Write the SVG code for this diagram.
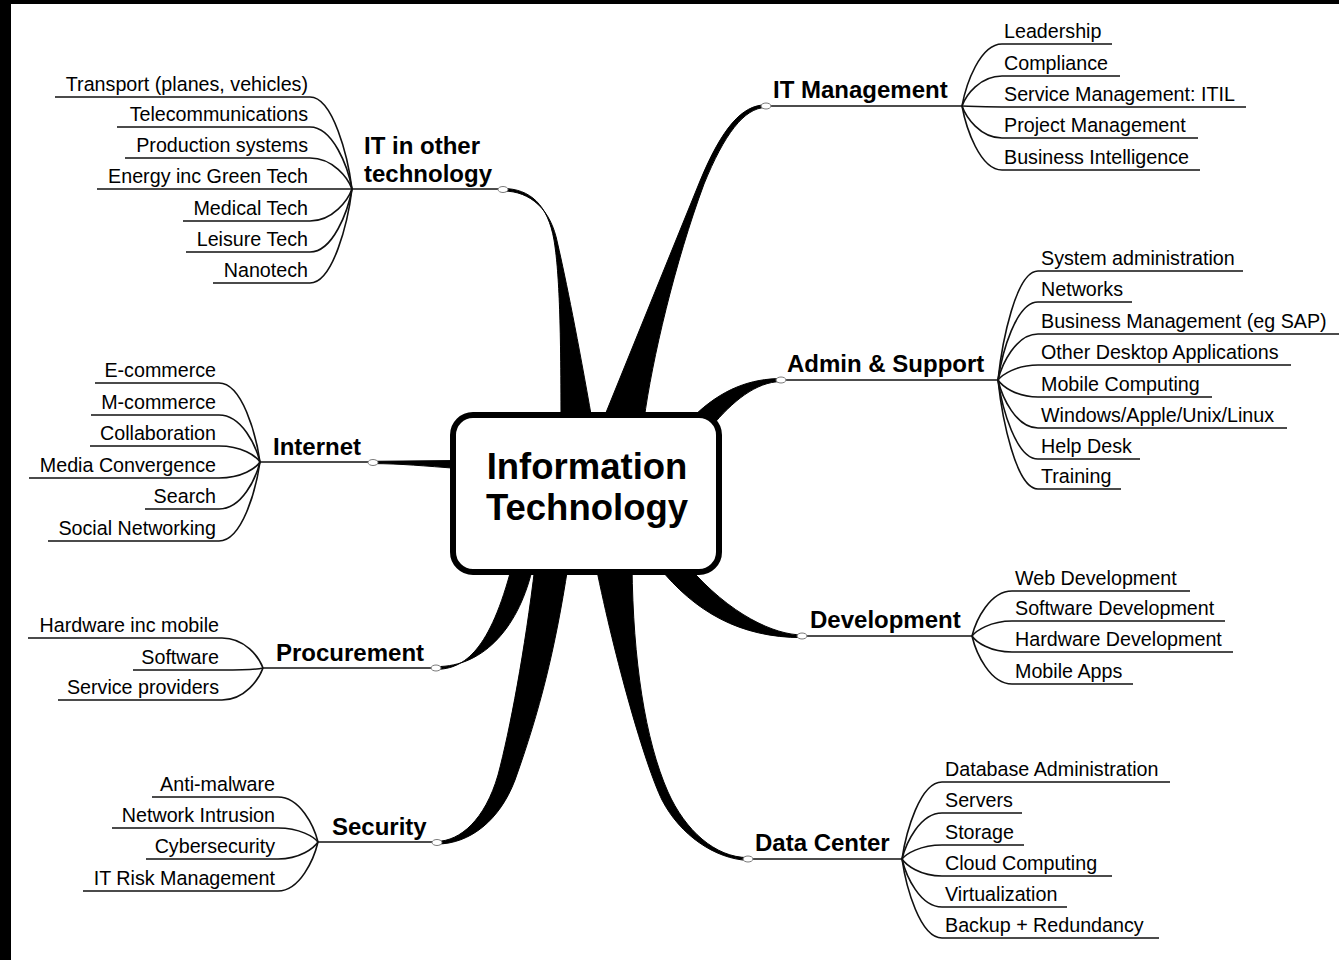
<svg xmlns="http://www.w3.org/2000/svg" width="1339" height="960" viewBox="0 0 1339 960">
<style>
text { font-family: "Liberation Sans", Arial, sans-serif; fill: #000; }
.sub { font-size: 19.7px; }
.subl { font-size: 19.7px; text-anchor: end; }
.main { font-size: 24px; font-weight: bold; }
.center { font-size: 36.5px; font-weight: bold; text-anchor: middle; }
.ln { fill: none; stroke: #111; stroke-width: 1.6; }
.wedge { fill: #000; stroke: #000; stroke-width: 1; stroke-linejoin: round; }
.knob { fill: #fff; stroke: #7a7a7a; stroke-width: 1; }
</style>
<rect x="0" y="0" width="1339" height="960" fill="#fff"/>
<rect x="0" y="0" width="1339" height="4" fill="#000"/>
<rect x="0" y="0" width="11" height="960" fill="#000"/>

<g id="connectors">
  <!-- thick branches -->
  <path class="wedge" d="M 503 188.5 C 530 188.5, 548 205, 554 240 C 559 270, 561 320, 561 420 L 592 420 C 578 340, 566 280, 557.5 243 C 551 210, 531 191, 503 191 Z"/>
  <path class="wedge" d="M 766 104.8 C 742 104.8, 722 128, 700 181 L 603 420 L 644 420 C 652 360, 675 262, 704 184 C 724 135, 744 107.5, 766 107.5 Z"/>
  <path class="wedge" d="M 781 378.6 C 752 378.6, 722 388, 692 418 L 712 426 C 732 402, 756 381.6, 781 381.6 Z"/>
  <path class="wedge" d="M 373 461.3 L 458 460.5 L 458 468.5 C 425 466, 400 463.6, 373 463.6 Z"/>
  <path class="wedge" d="M 802 634.9 C 775 635, 730 615, 688 566 L 658 566 C 695 612, 740 637.6, 802 637.6 Z"/>
  <path class="wedge" d="M 748 860.4 C 715 859, 680 835, 662 800 C 645 765, 615 660, 596 566 L 632 566 C 633 660, 645 740, 668 792 C 685 830, 715 857.6, 748 857.6 Z"/>
  <path class="wedge" d="M 437 841.4 C 460 841, 485 820, 498 775 C 510 730, 525 650, 535 566 L 568 566 C 555 650, 540 710, 515 780 C 500 820, 470 844, 437 844 Z"/>
  <path class="wedge" d="M 436 669.4 C 465 669, 490 650, 512 566 L 533 566 C 520 625, 485 667, 436 666.6 Z"/>

  <!-- IT in other technology -->
  <path class="ln" d="M 352 189 H 503"/>
  <path class="ln" d="M 55 97 H 310 C 333 97, 348 157, 352 189"/>
  <path class="ln" d="M 117 127 H 310 C 333 127, 348 167, 352 189"/>
  <path class="ln" d="M 125 158 H 310 C 333 158, 348 178, 352 189"/>
  <path class="ln" d="M 97 189 H 352"/>
  <path class="ln" d="M 183 221 H 310 C 333 221, 348 200, 352 189"/>
  <path class="ln" d="M 186 252 H 310 C 333 252, 348 211, 352 189"/>
  <path class="ln" d="M 213 283 H 310 C 333 283, 348 222, 352 189"/>

  <!-- Internet -->
  <path class="ln" d="M 260 462 H 373"/>
  <path class="ln" d="M 95 383 H 219 C 242 383, 256 434, 260 462"/>
  <path class="ln" d="M 91 415 H 219 C 242 415, 256 446, 260 462"/>
  <path class="ln" d="M 90 446 H 219 C 242 446, 256 456, 260 462"/>
  <path class="ln" d="M 29 478 H 219 C 242 478, 256 468, 260 462"/>
  <path class="ln" d="M 145 509 H 219 C 242 509, 256 478, 260 462"/>
  <path class="ln" d="M 48 541 H 219 C 242 541, 256 490, 260 462"/>

  <!-- Procurement -->
  <path class="ln" d="M 263 668 H 436"/>
  <path class="ln" d="M 28 638 H 222 C 245 638, 259 657, 263 668"/>
  <path class="ln" d="M 133 670 H 222 C 245 670, 259 669, 263 668"/>
  <path class="ln" d="M 58 700 H 222 C 245 700, 259 679, 263 668"/>

  <!-- Security -->
  <path class="ln" d="M 318 842 H 437"/>
  <path class="ln" d="M 152 797 H 278 C 300 797, 314 826, 318 842"/>
  <path class="ln" d="M 112 828 H 278 C 300 828, 314 837, 318 842"/>
  <path class="ln" d="M 146 859 H 278 C 300 859, 314 848, 318 842"/>
  <path class="ln" d="M 83 891 H 278 C 300 891, 314 859, 318 842"/>

  <!-- IT Management -->
  <path class="ln" d="M 766 106 H 962"/>
  <path class="ln" d="M 962 106 C 966 84, 980 44, 1002 44 H 1112"/>
  <path class="ln" d="M 962 106 C 966 95, 980 76, 1002 76 H 1120"/>
  <path class="ln" d="M 962 106 C 966 106, 980 107, 1002 107 H 1246"/>
  <path class="ln" d="M 962 106 C 966 117, 980 138, 1002 138 H 1198"/>
  <path class="ln" d="M 962 106 C 966 128, 980 170, 1002 170 H 1200"/>

  <!-- Admin & Support -->
  <path class="ln" d="M 781 380 H 998"/>
  <path class="ln" d="M 998 380 C 1002 342, 1016 271, 1038 271 H 1243"/>
  <path class="ln" d="M 998 380 C 1002 353, 1016 302, 1038 302 H 1132"/>
  <path class="ln" d="M 998 380 C 1002 364, 1016 334, 1038 334 H 1339"/>
  <path class="ln" d="M 998 380 C 1002 375, 1016 365, 1038 365 H 1291"/>
  <path class="ln" d="M 998 380 C 1002 386, 1016 397, 1038 397 H 1212"/>
  <path class="ln" d="M 998 380 C 1002 397, 1016 428, 1038 428 H 1287"/>
  <path class="ln" d="M 998 380 C 1002 408, 1016 459, 1038 459 H 1140"/>
  <path class="ln" d="M 998 380 C 1002 418, 1016 489, 1038 489 H 1121"/>

  <!-- Development -->
  <path class="ln" d="M 802 636 H 972"/>
  <path class="ln" d="M 972 636 C 976 620, 990 591, 1012 591 H 1190"/>
  <path class="ln" d="M 972 636 C 976 631, 990 621, 1012 621 H 1225"/>
  <path class="ln" d="M 972 636 C 976 642, 990 652, 1012 652 H 1233"/>
  <path class="ln" d="M 972 636 C 976 653, 990 684, 1012 684 H 1133"/>

  <!-- Data Center -->
  <path class="ln" d="M 747 859 H 902"/>
  <path class="ln" d="M 902 859 C 906 832, 920 782, 942 782 H 1170"/>
  <path class="ln" d="M 902 859 C 906 843, 920 813, 942 813 H 1022"/>
  <path class="ln" d="M 902 859 C 906 854, 920 845, 942 845 H 1024"/>
  <path class="ln" d="M 902 859 C 906 865, 920 876, 942 876 H 1112"/>
  <path class="ln" d="M 902 859 C 906 876, 920 907, 942 907 H 1067"/>
  <path class="ln" d="M 902 859 C 906 887, 920 938, 942 938 H 1159"/>

  <!-- connection knobs -->
  <ellipse class="knob" cx="503" cy="189.5" rx="5" ry="3"/>
  <ellipse class="knob" cx="766" cy="106" rx="5" ry="3"/>
  <ellipse class="knob" cx="781" cy="380" rx="5" ry="3"/>
  <ellipse class="knob" cx="373" cy="462.5" rx="5" ry="3"/>
  <ellipse class="knob" cx="802" cy="636" rx="5" ry="3"/>
  <ellipse class="knob" cx="436" cy="668" rx="5" ry="3"/>
  <ellipse class="knob" cx="437" cy="842.5" rx="5" ry="3"/>
  <ellipse class="knob" cx="748" cy="859" rx="5" ry="3"/>
</g>

<g id="node-center">
  <rect x="453" y="415" width="266" height="157" rx="20" ry="20" fill="#fff" stroke="#000" stroke-width="6"/>
  <text class="center" x="587" y="479">Information</text>
  <text class="center" x="587" y="520">Technology</text>
</g>

<g id="node-it-other">
  <text class="main" x="364" y="154">IT in other</text>
  <text class="main" x="364" y="182">technology</text>
</g>
<g id="node-it-other-items">
  <text class="subl" x="308" y="91">Transport (planes, vehicles)</text>
  <text class="subl" x="308" y="121">Telecommunications</text>
  <text class="subl" x="308" y="152">Production systems</text>
  <text class="subl" x="308" y="183">Energy inc Green Tech</text>
  <text class="subl" x="308" y="215">Medical Tech</text>
  <text class="subl" x="308" y="246">Leisure Tech</text>
  <text class="subl" x="308" y="277">Nanotech</text>
</g>

<g id="node-internet">
  <text class="main" x="273" y="455">Internet</text>
</g>
<g id="node-internet-items">
  <text class="subl" x="216" y="377">E-commerce</text>
  <text class="subl" x="216" y="409">M-commerce</text>
  <text class="subl" x="216" y="440">Collaboration</text>
  <text class="subl" x="216" y="472">Media Convergence</text>
  <text class="subl" x="216" y="503">Search</text>
  <text class="subl" x="216" y="535">Social Networking</text>
</g>

<g id="node-procurement">
  <text class="main" x="276" y="661">Procurement</text>
</g>
<g id="node-procurement-items">
  <text class="subl" x="219" y="632">Hardware inc mobile</text>
  <text class="subl" x="219" y="664">Software</text>
  <text class="subl" x="219" y="694">Service providers</text>
</g>

<g id="node-security">
  <text class="main" x="332" y="835">Security</text>
</g>
<g id="node-security-items">
  <text class="subl" x="275" y="791">Anti-malware</text>
  <text class="subl" x="275" y="822">Network Intrusion</text>
  <text class="subl" x="275" y="853">Cybersecurity</text>
  <text class="subl" x="275" y="885">IT Risk Management</text>
</g>

<g id="node-it-management">
  <text class="main" x="773" y="98">IT Management</text>
</g>
<g id="node-it-management-items">
  <text class="sub" x="1004" y="38">Leadership</text>
  <text class="sub" x="1004" y="70">Compliance</text>
  <text class="sub" x="1004" y="101">Service Management: ITIL</text>
  <text class="sub" x="1004" y="132">Project Management</text>
  <text class="sub" x="1004" y="164">Business Intelligence</text>
</g>

<g id="node-admin">
  <text class="main" x="787" y="372">Admin &amp; Support</text>
</g>
<g id="node-admin-items">
  <text class="sub" x="1041" y="265">System administration</text>
  <text class="sub" x="1041" y="296">Networks</text>
  <text class="sub" x="1041" y="328">Business Management (eg SAP)</text>
  <text class="sub" x="1041" y="359">Other Desktop Applications</text>
  <text class="sub" x="1041" y="391">Mobile Computing</text>
  <text class="sub" x="1041" y="422">Windows/Apple/Unix/Linux</text>
  <text class="sub" x="1041" y="453">Help Desk</text>
  <text class="sub" x="1041" y="483">Training</text>
</g>

<g id="node-development">
  <text class="main" x="810" y="628">Development</text>
</g>
<g id="node-development-items">
  <text class="sub" x="1015" y="585">Web Development</text>
  <text class="sub" x="1015" y="615">Software Development</text>
  <text class="sub" x="1015" y="646">Hardware Development</text>
  <text class="sub" x="1015" y="678">Mobile Apps</text>
</g>

<g id="node-data-center">
  <text class="main" x="755" y="851">Data Center</text>
</g>
<g id="node-data-center-items">
  <text class="sub" x="945" y="776">Database Administration</text>
  <text class="sub" x="945" y="807">Servers</text>
  <text class="sub" x="945" y="839">Storage</text>
  <text class="sub" x="945" y="870">Cloud Computing</text>
  <text class="sub" x="945" y="901">Virtualization</text>
  <text class="sub" x="945" y="932">Backup + Redundancy</text>
</g>
</svg>
